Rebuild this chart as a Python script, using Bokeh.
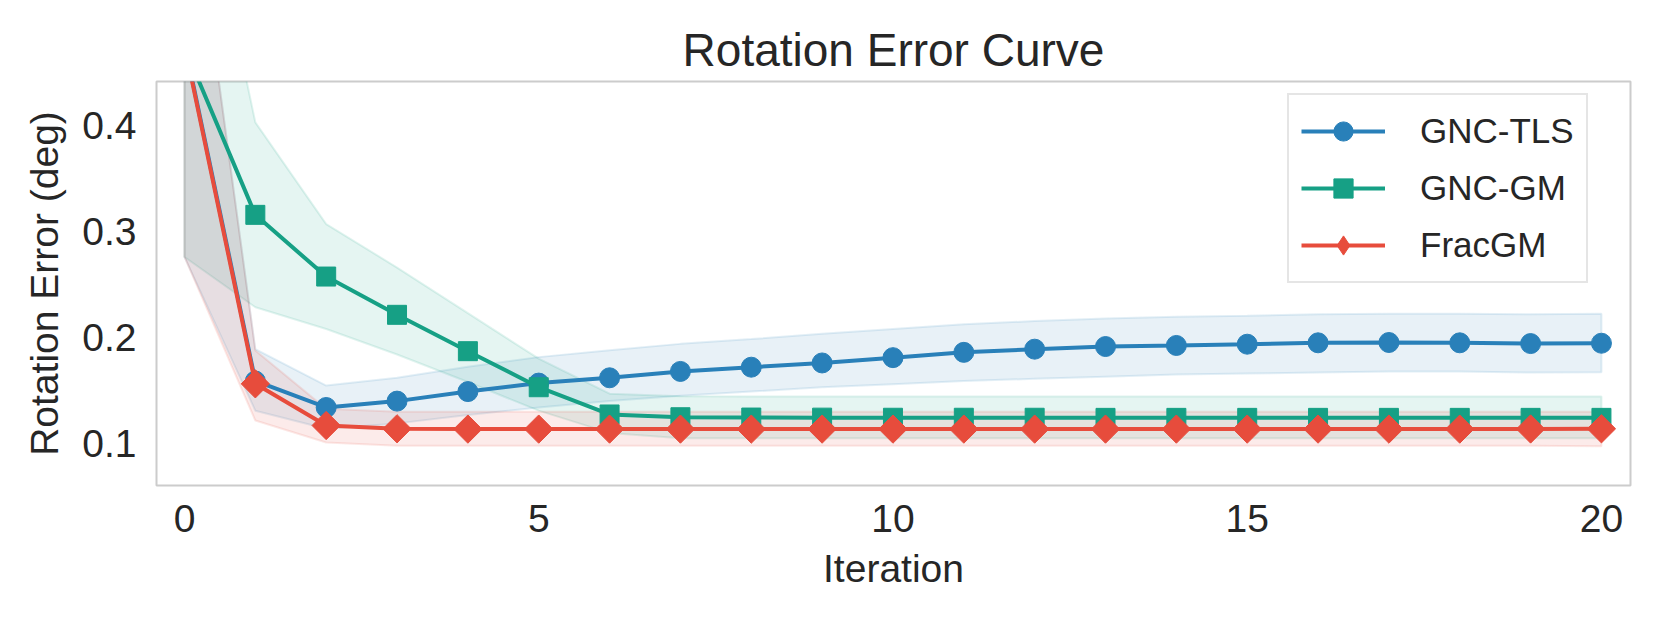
import numpy as np
from bokeh.plotting import figure
from bokeh.models import Range1d, FixedTicker, Legend, LegendItem
from bokeh.embed import file_html
from bokeh.resources import INLINE

# ---------------- data ----------------
iterations = list(range(21))

tls_mean = [0.478, 0.159, 0.134, 0.140, 0.149, 0.157, 0.162, 0.168, 0.172, 0.176, 0.181,
            0.186, 0.189, 0.1915, 0.1925, 0.1937, 0.195, 0.1953, 0.195, 0.1943, 0.1946]
tls_upper = [0.68, 0.189, 0.1547, 0.162, 0.1725, 0.1815, 0.188, 0.194, 0.1985, 0.2035, 0.208,
             0.2125, 0.2155, 0.218, 0.2195, 0.2205, 0.222, 0.2225, 0.2225, 0.222, 0.2224]
tls_lower = [0.276, 0.131, 0.114, 0.119, 0.127, 0.134, 0.140, 0.145, 0.149, 0.153, 0.156,
             0.159, 0.161, 0.163, 0.165, 0.166, 0.167, 0.168, 0.168, 0.167, 0.1673]

gm_mean = [0.474, 0.3157, 0.2575, 0.2214, 0.1871, 0.1531, 0.1274, 0.1248, 0.1245, 0.1244, 0.1243,
           0.1243, 0.1243, 0.1242, 0.1242, 0.1242, 0.1242, 0.1242, 0.1242, 0.1242, 0.1242]
gm_upper = [0.72, 0.403, 0.307, 0.266, 0.223, 0.180, 0.147, 0.1445, 0.1443, 0.1443, 0.1443,
            0.1443, 0.1443, 0.1443, 0.1443, 0.1443, 0.1443, 0.1443, 0.1443, 0.1443, 0.1443]
gm_lower = [0.276, 0.2286, 0.208, 0.184, 0.158, 0.131, 0.110, 0.105, 0.105, 0.105, 0.105,
            0.105, 0.105, 0.105, 0.105, 0.105, 0.105, 0.105, 0.105, 0.105, 0.105]

frac_mean = [0.476, 0.1563, 0.117, 0.1139, 0.1136, 0.1136, 0.1136, 0.1136, 0.1136, 0.1136, 0.1136,
             0.1136, 0.1136, 0.1136, 0.1136, 0.1136, 0.1136, 0.1136, 0.1136, 0.1137, 0.1139]
frac_upper = [0.68, 0.1877, 0.1327, 0.130, 0.130, 0.130, 0.130, 0.130, 0.130, 0.130, 0.130,
              0.130, 0.130, 0.130, 0.130, 0.130, 0.130, 0.130, 0.130, 0.130, 0.130]
frac_lower = [0.276, 0.1217, 0.101, 0.098, 0.098, 0.098, 0.098, 0.098, 0.098, 0.098, 0.098,
              0.098, 0.098, 0.098, 0.098, 0.098, 0.098, 0.098, 0.098, 0.098, 0.0975]

series_names = ["GNC-TLS", "GNC-GM", "FracGM"]
x_ticks = [0, 5, 10, 15, 20]
y_ticks = [0.1, 0.2, 0.3, 0.4]

# ---------------- style ----------------
FONT = "Liberation Sans"
TXT = "#262626"
colors = ["#2980b9", "#16a085", "#e74c3c"]

p = figure(width=1645, height=607, output_backend="svg", toolbar_location=None,
           x_range=Range1d(-0.395, 20.41), y_range=Range1d(0.0604, 0.4415),
           min_border_left=156, min_border_right=15, min_border_top=81, min_border_bottom=122,
           background_fill_color="white", border_fill_color="white")

p.title.text = "Rotation Error Curve"
p.title.align = "center"
p.title.text_font = FONT
p.title.text_font_size = "46px"
p.title.text_font_style = "normal"
p.title.text_color = TXT
p.title.standoff = 12

p.outline_line_color = "#cccccc"
p.outline_line_width = 2
p.xgrid.visible = False
p.ygrid.visible = False

for ax in (p.xaxis[0], p.yaxis[0]):
    ax.axis_line_color = None
    ax.major_tick_line_color = None
    ax.minor_tick_line_color = None
    ax.major_tick_in = 0
    ax.major_tick_out = 0
    ax.minor_tick_in = 0
    ax.minor_tick_out = 0
    ax.major_label_text_font = FONT
    ax.major_label_text_font_size = "39px"
    ax.major_label_text_color = TXT
    ax.axis_label_text_font = FONT
    ax.axis_label_text_font_size = "39px"
    ax.axis_label_text_font_style = "normal"
    ax.axis_label_text_color = TXT

p.xaxis.ticker = FixedTicker(ticks=x_ticks)
p.yaxis.ticker = FixedTicker(ticks=y_ticks)
p.xaxis.axis_label = "Iteration"
p.yaxis.axis_label = "Rotation Error (deg)"
p.xaxis.major_label_standoff = 19
p.xaxis.axis_label_standoff = 12
p.yaxis.major_label_standoff = 20
p.yaxis.axis_label_standoff = 13

means = [tls_mean, gm_mean, frac_mean]
uppers = [tls_upper, gm_upper, frac_upper]
lowers = [tls_lower, gm_lower, frac_lower]
markers = [("circle", 20, 0.0), ("square", 19, 0.0), ("square", 20, np.pi / 4)]
legend_markers = ["circle", "square", "diamond"]

# bands
for c, up, lo in zip(colors, uppers, lowers):
    xs = iterations + iterations[::-1]
    ys = list(up) + list(lo)[::-1]
    p.patch(xs, ys, fill_color=c, fill_alpha=0.11, line_color=c, line_alpha=0.13, line_width=2)

items = []
for name, c, m, (mk, sz, ang), lmk in zip(series_names, colors, means, markers, legend_markers):
    lr = p.line(iterations, m, line_color=c, line_width=4)
    if lmk != mk:
        # upright diamond used for the legend; fully covered by the rotated square below
        dr = p.scatter(iterations, m, marker=lmk, size=sz, fill_color=c, line_color=c, line_width=1)
    sr = p.scatter(iterations, m, marker=mk, size=sz, angle=ang,
                   fill_color=c, line_color=c, line_width=1)
    items.append(LegendItem(label=name, renderers=[lr, sr if lmk == mk else dr]))

legend = Legend(items=items, location=(1131, 202))
legend.label_text_font = FONT
legend.label_text_font_size = "35px"
legend.label_text_color = TXT
legend.glyph_width = 84
legend.glyph_height = 48
legend.label_height = 48
legend.label_standoff = 35
legend.spacing = 9
legend.padding = 12
legend.margin = 0
legend.border_line_color = "#cccccc"
legend.border_line_width = 2
legend.background_fill_color = "white"
legend.background_fill_alpha = 0.85
p.add_layout(legend, "center")

open("out.html", "w").write(file_html(p, INLINE))
